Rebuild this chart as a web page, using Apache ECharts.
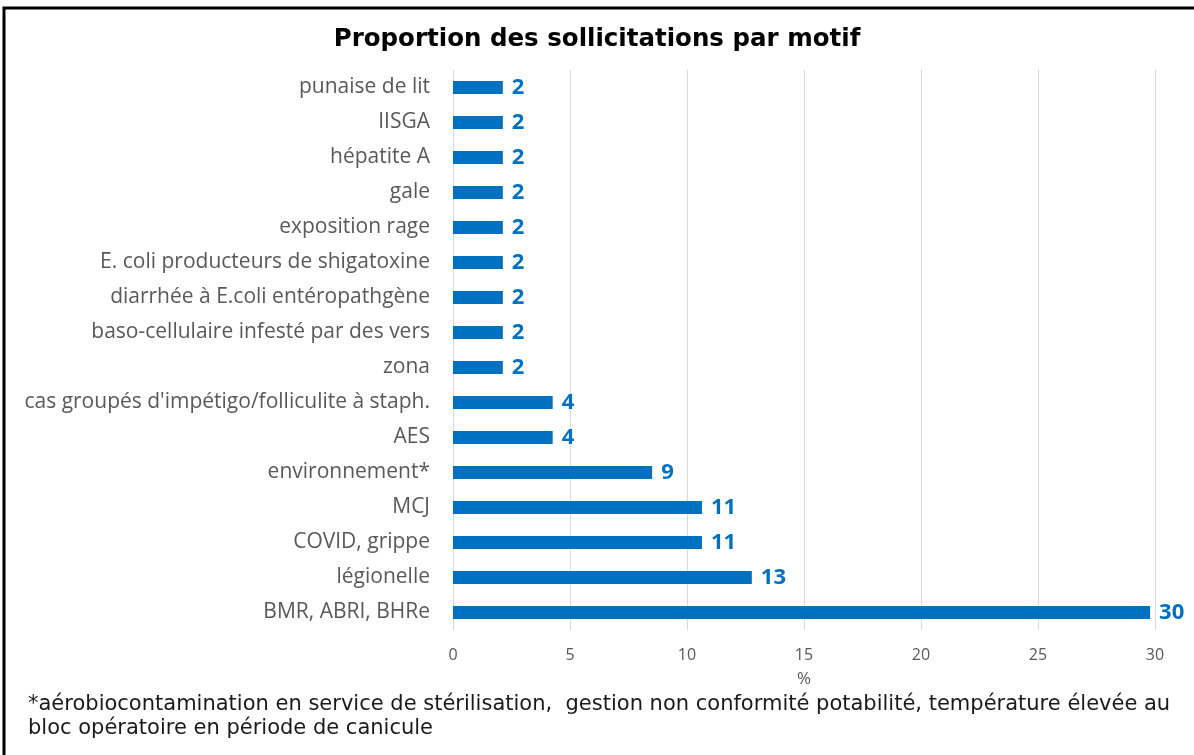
<!DOCTYPE html>
<html>
<head>
<meta charset="utf-8">
<script src="https://cdn.jsdelivr.net/npm/echarts@6/dist/echarts.min.js"></script>
<style>
  html, body { margin: 0; padding: 0; background: #fff; }
  #chart { width: 1194px; height: 755px; }
</style>
</head>
<body>
<div id="chart"></div>
<script>
// motifs, top to bottom
const motifs = [
  'punaise de lit',
  'IISGA',
  'hépatite A',
  'gale',
  'exposition rage',
  'E. coli producteurs de shigatoxine',
  'diarrhée à E.coli entéropathgène',
  'baso-cellulaire infesté par des vers',
  'zona',
  "cas groupés d'impétigo/folliculite à staph.",
  'AES',
  'environnement*',
  'MCJ',
  'COVID, grippe',
  'légionelle',
  'BMR, ABRI, BHRe'
];
// % of requests (labels shown rounded)
const pourcentages = [
  2.13, 2.13, 2.13, 2.13, 2.13, 2.13, 2.13, 2.13, 2.13,
  4.26, 4.26, 8.51, 10.64, 10.64, 12.77, 29.79
];
const ticksX = { min: 0, max: 30, interval: 5 };

const chart = echarts.init(document.getElementById('chart'));

const option = {
  animation: false,
  backgroundColor: '#ffffff',
  title: {
    text: 'Proportion des sollicitations par motif',
    left: 'center',
    top: 22,
    textStyle: {
      fontFamily: 'DejaVu Sans',
      fontWeight: 'bold',
      fontSize: 24.5,
      color: '#000'
    }
  },
  grid: { left: 453, right: 39, top: 70, bottom: 125, containLabel: false },
  xAxis: {
    type: 'value',
    min: ticksX.min,
    max: ticksX.max,
    interval: ticksX.interval,
    name: '%',
    nameLocation: 'middle',
    nameGap: 41,
    nameTextStyle: { fontFamily: 'Open Sans', fontSize: 17, color: '#595959' },
    axisLine: { show: false },
    axisTick: { show: false },
    axisLabel: { fontFamily: 'Open Sans', fontSize: 16, color: '#595959', margin: 17 },
    splitLine: { show: true, lineStyle: { color: '#d9d9d9', width: 1 } }
  },
  yAxis: {
    type: 'category',
    data: motifs,
    inverse: true,
    axisLine: { show: false },
    axisTick: { show: false },
    axisLabel: { fontFamily: 'Open Sans', fontSize: 21, color: '#595959', margin: 23 }
  },
  series: [{
    type: 'bar',
    data: pourcentages,
    barWidth: 13,
    itemStyle: { color: '#0070c0' },
    label: {
      show: true,
      position: 'right',
      distance: 9,
      formatter: p => Math.round(p.value),
      fontFamily: 'Open Sans',
      fontWeight: 'bold',
      fontSize: 22,
      color: '#0070c0'
    }
  }],
  graphic: [
    { type: 'rect', shape: { x: 4, y: 8, width: 1200, height: 760 },
      style: { fill: 'none', stroke: '#000', lineWidth: 3 } },
    { type: 'text', left: 28, top: 693,
      style: {
        text: '*aérobiocontamination en service de stérilisation,  gestion non conformité potabilité, température élevée au\nbloc opératoire en période de canicule',
        fontFamily: 'DejaVu Sans', fontSize: 21, lineHeight: 24, fill: '#1a1a1a'
      } }
  ]
};

chart.setOption(option);
</script>
</body>
</html>
